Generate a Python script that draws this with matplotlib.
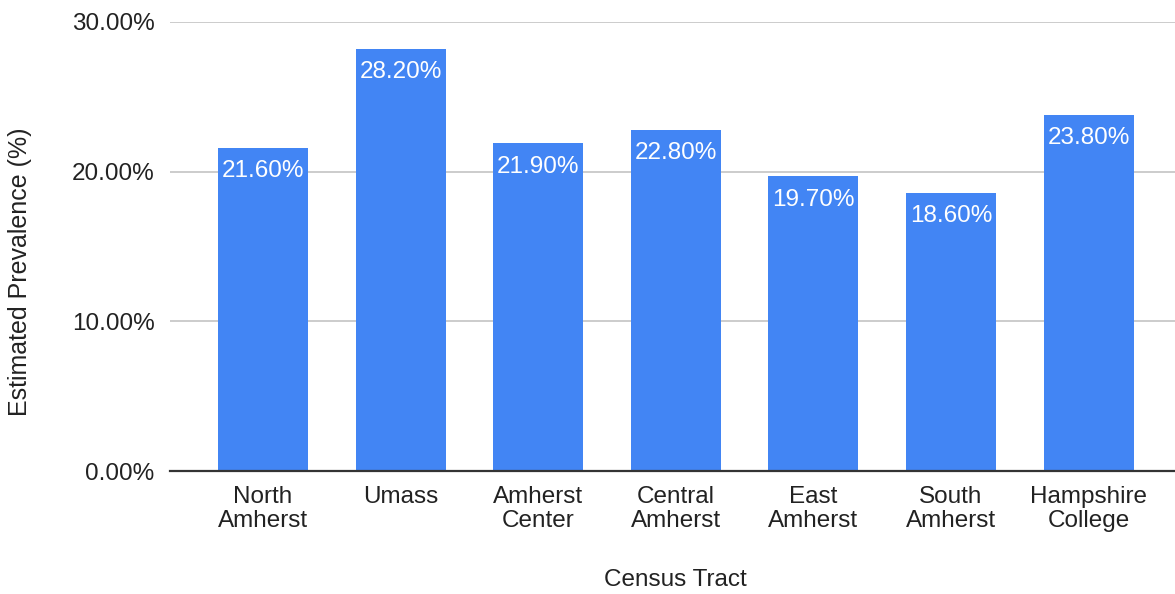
import matplotlib
matplotlib.use("Agg")
import matplotlib.pyplot as plt
from matplotlib.ticker import FuncFormatter, MultipleLocator

tracts = ["North\nAmherst", "Umass", "Amherst\nCenter", "Central\nAmherst",
          "East\nAmherst", "South\nAmherst", "Hampshire\nCollege"]
prevalence = [21.6, 28.2, 21.9, 22.8, 19.7, 18.6, 23.8]

plt.rcParams["font.family"] = ["Liberation Sans", "DejaVu Sans"]
BLUE = "#4285F4"
FS = 17.5

fig = plt.figure(figsize=(11.75, 5.94), dpi=100)
ax = fig.add_axes([170 / 1175, 1 - 471 / 594, 1 - 170 / 1175, (471 - 22) / 594])

x = list(range(len(tracts)))
bars = ax.bar(x, prevalence, width=0.654, color=BLUE, zorder=3)

for rect, v in zip(bars, prevalence):
    ax.annotate(f"{v:.2f}%", (rect.get_x() + rect.get_width() / 2, v),
                xytext=(0, -9), textcoords="offset points",
                ha="center", va="top", color="white", fontsize=FS, zorder=4)

ax.set_ylim(0, 30)
ax.set_xlim(-0.676, 6.628)
ax.yaxis.set_major_locator(MultipleLocator(10))
ax.yaxis.set_major_formatter(FuncFormatter(lambda v, _: f"{v:.2f}%"))
ax.grid(axis="y", color="#cccccc", linewidth=1.4, zorder=0)
ax.set_axisbelow(True)

ax.set_xticks(x)
ax.set_xticklabels(tracts, fontsize=FS, linespacing=1.12)
ax.tick_params(axis="x", length=0, pad=11, colors="#222222")
ax.tick_params(axis="y", length=0, pad=11, labelsize=FS, colors="#222222")

for s in ("top", "right", "left"):
    ax.spines[s].set_visible(False)
ax.spines["bottom"].set_color("#333333")
ax.spines["bottom"].set_linewidth(1.6)
ax.spines["bottom"].set_zorder(5)

ax.set_xlabel("Census Tract", fontsize=FS, color="#222222", va="center")
ax.xaxis.set_label_coords((675 - 170) / 1005, (471 - 580) / 449)
ax.set_ylabel("Estimated Prevalence (%)", fontsize=18, color="#222222", va="center")
ax.yaxis.set_label_coords((20.5 - 170) / 1005, (471 - 271.5) / 449)

fig.savefig("out.png", dpi=100)
